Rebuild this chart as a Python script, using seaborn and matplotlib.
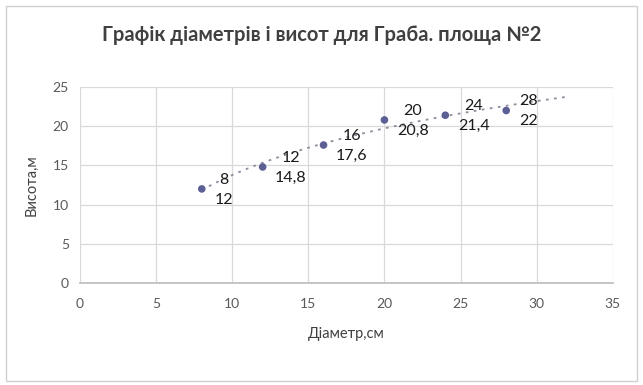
import numpy as np
import pandas as pd
import matplotlib
matplotlib.use('Agg')
import matplotlib.pyplot as plt
import seaborn as sns
from matplotlib.patches import Rectangle

# --- Data ---
diameters = [8, 12, 16, 20, 24, 28]
heights = [12, 14.8, 17.6, 20.8, 21.4, 22]
x_labels = ['8', '12', '16', '20', '24', '28']
y_labels = ['12', '14,8', '17,6', '20,8', '21,4', '22']

df = pd.DataFrame({'d': diameters, 'h': heights})

sns.set_theme(style='whitegrid')
plt.rcParams['font.family'] = ['Lato', 'DejaVu Sans']

fig = plt.figure(figsize=(6.43, 3.85), dpi=100)
ax = fig.add_axes([0.1244, 0.265, 0.8286, 0.509])

# logarithmic trendline (fit of the data), extended forward by 4
b, a = np.polyfit(np.log(df['d']), df['h'], 1)
xt = np.linspace(min(diameters), max(diameters) + 4, 100)
ax.plot(xt, a + b * np.log(xt), linestyle=(0, (1.5, 3)), color='#8c8c9c', lw=1.3, zorder=2)

sns.scatterplot(data=df, x='d', y='h', ax=ax, color='#5c5f94', s=30,
                edgecolor='none', zorder=3)

for xv, yv, xl, yl in zip(diameters, heights, x_labels, y_labels):
    ax.annotate(f'{xl}\n{yl}', (xv, yv), xytext=(9, -0.5), textcoords='offset points',
                ha='left', va='center', multialignment='center', fontsize=11.5,
                color='#1a1a1a', linespacing=1.55, zorder=4)

ax.set_xlim(0, 35)
ax.set_ylim(0, 25)
ax.set_xticks(range(0, 36, 5))
ax.set_yticks(range(0, 26, 5))
ax.grid(True, color='#d9d9d9', lw=0.9)
for side in ['left', 'right', 'top']:
    ax.spines[side].set_visible(False)
ax.spines['bottom'].set_color('#bfbfbf')
ax.tick_params(axis='both', length=0, labelsize=10, colors='#595959', pad=8)
ax.tick_params(axis='x', pad=11)

ax.set_xlabel('Діаметр,см', fontsize=10.5, color='#404040', labelpad=12)
ax.set_ylabel('Висота,м', fontsize=10.5, color='#404040', labelpad=10)
fig.suptitle('Графік діаметрів і висот для Граба. площа №2', fontsize=14.5,
             fontweight='bold', color='#404040', y=0.935)

fig.patches.append(Rectangle((0.01, 0.01), 0.98, 0.975, transform=fig.transFigure,
                             fill=False, edgecolor='#d0d0d0', lw=1))

fig.savefig('out.png', dpi=100)
